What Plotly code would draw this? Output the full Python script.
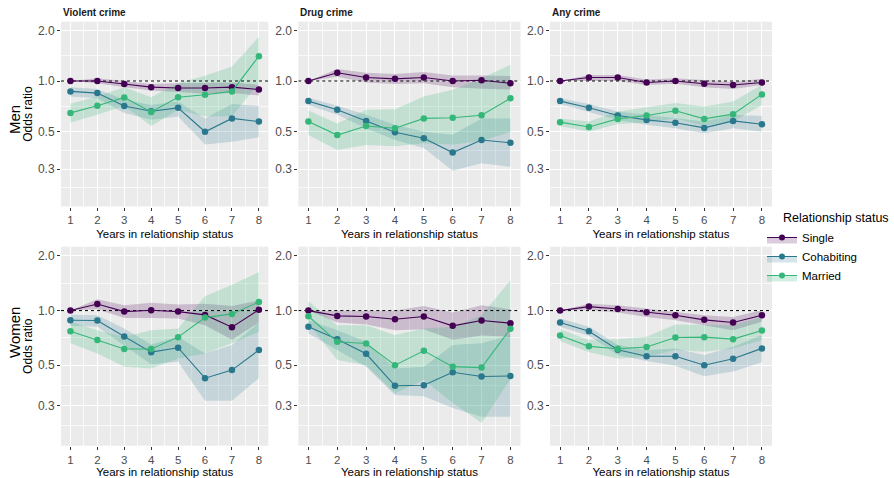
import math
import plotly.graph_objects as go

YEARS = [1, 2, 3, 4, 5, 6, 7, 8]
CRIMES = ["Violent crime", "Drug crime", "Any crime"]
SEXES = ["Men", "Women"]
STATUSES = ["Single", "Cohabiting", "Married"]
Y_TICKS = [0.3, 0.5, 1.0, 2.0]
Y_TICK_TEXT = ["0.3", "0.5", "1.0", "2.0"]
X_TITLE = "Years in relationship status"
Y_TITLE = "Odds ratio"
LEGEND_TITLE = "Relationship status"

# ---- Men, Violent crime
vm_single = [1.0, 1.0, 0.96, 0.92, 0.91, 0.91, 0.92, 0.89]
vm_single_lo = [1.0, 0.97, 0.92, 0.88, 0.86, 0.84, 0.85, 0.82]
vm_single_hi = [1.0, 1.04, 1.0, 0.96, 0.97, 0.97, 0.98, 0.95]
vm_cohab = [0.868, 0.848, 0.71, 0.662, 0.693, 0.50, 0.60, 0.575]
vm_cohab_lo = [0.81, 0.79, 0.645, 0.59, 0.616, 0.42, 0.436, 0.463]
vm_cohab_hi = [0.92, 0.896, 0.774, 0.72, 0.756, 0.60, 0.73, 0.71]
vm_married = [0.647, 0.713, 0.799, 0.656, 0.802, 0.829, 0.868, 1.403]
vm_married_lo = [0.567, 0.63, 0.713, 0.54, 0.675, 0.616, 0.62, 0.97]
vm_married_hi = [0.733, 0.81, 0.92, 0.80, 0.973, 1.076, 1.22, 1.83]

# ---- Men, Drug crime
dm_single = [1.0, 1.12, 1.05, 1.03, 1.05, 1.0, 1.01, 0.97]
dm_single_lo = [1.0, 1.06, 0.98, 0.96, 0.97, 0.92, 0.90, 0.89]
dm_single_hi = [1.0, 1.18, 1.12, 1.10, 1.13, 1.08, 1.08, 1.07]
dm_cohab = [0.76, 0.675, 0.58, 0.497, 0.457, 0.376, 0.447, 0.43]
dm_cohab_lo = [0.72, 0.63, 0.525, 0.447, 0.40, 0.293, 0.325, 0.31]
dm_cohab_hi = [0.796, 0.713, 0.63, 0.55, 0.50, 0.48, 0.60, 0.60]
dm_married = [0.575, 0.478, 0.541, 0.525, 0.60, 0.605, 0.627, 0.79]
dm_married_lo = [0.478, 0.39, 0.417, 0.41, 0.427, 0.42, 0.44, 0.50]
dm_married_hi = [0.668, 0.56, 0.675, 0.681, 0.81, 0.888, 1.04, 1.25]

# ---- Men, Any crime
am_single = [1.0, 1.05, 1.05, 0.98, 1.0, 0.964, 0.947, 0.98]
am_single_lo = [1.0, 1.0, 1.0, 0.947, 0.964, 0.92, 0.896, 0.947]
am_single_hi = [1.0, 1.086, 1.086, 1.02, 1.04, 1.01, 0.99, 1.03]
am_cohab = [0.76, 0.694, 0.624, 0.588, 0.565, 0.527, 0.58, 0.554]
am_cohab_lo = [0.73, 0.656, 0.588, 0.55, 0.525, 0.49, 0.525, 0.50]
am_cohab_hi = [0.79, 0.73, 0.66, 0.63, 0.60, 0.575, 0.63, 0.62]
am_married = [0.57, 0.534, 0.596, 0.624, 0.666, 0.596, 0.636, 0.833]
am_married_lo = [0.54, 0.50, 0.556, 0.567, 0.60, 0.54, 0.575, 0.72]
am_married_hi = [0.60, 0.575, 0.66, 0.70, 0.74, 0.706, 0.756, 0.95]

# ---- Women, Violent crime
vw_single = [1.0, 1.088, 0.987, 1.004, 0.987, 0.947, 0.81, 1.01]
vw_single_lo = [1.0, 1.017, 0.91, 0.91, 0.904, 0.83, 0.69, 0.86]
vw_single_hi = [1.0, 1.154, 1.07, 1.106, 1.08, 1.09, 1.06, 1.14]
vw_cohab = [0.885, 0.881, 0.72, 0.59, 0.624, 0.424, 0.47, 0.606]
vw_cohab_lo = [0.824, 0.814, 0.645, 0.506, 0.523, 0.318, 0.318, 0.424]
vw_cohab_hi = [0.95, 0.943, 0.797, 0.65, 0.717, 0.58, 0.646, 0.86]
vw_married = [0.77, 0.688, 0.614, 0.614, 0.714, 0.915, 0.959, 1.116]
vw_married_lo = [0.66, 0.58, 0.49, 0.48, 0.545, 0.58, 0.66, 0.764]
vw_married_hi = [0.867, 0.78, 0.717, 0.78, 0.797, 1.2, 1.39, 1.63]

# ---- Women, Drug crime
dw_single = [1.0, 0.935, 0.927, 0.896, 0.927, 0.824, 0.882, 0.852]
dw_single_lo = [1.0, 0.86, 0.838, 0.78, 0.79, 0.69, 0.73, 0.717]
dw_single_hi = [1.0, 1.004, 1.0, 1.0, 1.06, 0.975, 1.07, 1.017]
dw_cohab = [0.814, 0.694, 0.578, 0.385, 0.388, 0.457, 0.433, 0.436]
dw_cohab_lo = [0.748, 0.606, 0.49, 0.343, 0.337, 0.29, 0.26, 0.26]
dw_cohab_hi = [0.885, 0.78, 0.673, 0.48, 0.49, 0.646, 0.66, 0.73]
dw_married = [0.931, 0.673, 0.659, 0.5, 0.6, 0.491, 0.485, 0.793]
dw_married_lo = [0.849, 0.534, 0.5, 0.35, 0.415, 0.31, 0.24, 0.42]
dw_married_hi = [1.125, 0.83, 0.83, 0.733, 0.797, 0.814, 0.943, 1.47]

# ---- Women, Any crime
aw_single = [1.0, 1.052, 1.021, 0.979, 0.943, 0.889, 0.86, 0.943]
aw_single_lo = [1.0, 1.004, 0.975, 0.923, 0.885, 0.83, 0.78, 0.867]
aw_single_hi = [1.0, 1.09, 1.07, 1.025, 0.99, 0.943, 0.923, 1.004]
aw_cohab = [0.86, 0.77, 0.609, 0.56, 0.56, 0.5, 0.543, 0.619]
aw_cohab_lo = [0.814, 0.727, 0.569, 0.527, 0.497, 0.434, 0.461, 0.519]
aw_cohab_hi = [0.904, 0.814, 0.646, 0.606, 0.619, 0.569, 0.632, 0.733]
aw_married = [0.73, 0.635, 0.616, 0.63, 0.711, 0.714, 0.696, 0.777]
aw_married_lo = [0.68, 0.59, 0.545, 0.557, 0.606, 0.594, 0.619, 0.688]
aw_married_hi = [0.79, 0.688, 0.696, 0.717, 0.838, 0.83, 0.83, 0.923]

PANELS = [
    [(vm_single, vm_single_lo, vm_single_hi), (vm_cohab, vm_cohab_lo, vm_cohab_hi), (vm_married, vm_married_lo, vm_married_hi)],
    [(dm_single, dm_single_lo, dm_single_hi), (dm_cohab, dm_cohab_lo, dm_cohab_hi), (dm_married, dm_married_lo, dm_married_hi)],
    [(am_single, am_single_lo, am_single_hi), (am_cohab, am_cohab_lo, am_cohab_hi), (am_married, am_married_lo, am_married_hi)],
    [(vw_single, vw_single_lo, vw_single_hi), (vw_cohab, vw_cohab_lo, vw_cohab_hi), (vw_married, vw_married_lo, vw_married_hi)],
    [(dw_single, dw_single_lo, dw_single_hi), (dw_cohab, dw_cohab_lo, dw_cohab_hi), (dw_married, dw_married_lo, dw_married_hi)],
    [(aw_single, aw_single_lo, aw_single_hi), (aw_cohab, aw_cohab_lo, aw_cohab_hi), (aw_married, aw_married_lo, aw_married_hi)],
]

# ---- styling / layout constants
W, H = 894, 478
COLORS = ["#440154", "#2A788E", "#35B779"]
FILLS = ["rgba(68,1,84,0.2)", "rgba(42,120,142,0.2)", "rgba(53,183,121,0.22)"]
FONT = "Liberation Sans, Arial, Helvetica, sans-serif"
X_RANGE = [0.65, 8.35]
Y_RANGE = [math.log10(0.18), math.log10(2.25)]
X_MINOR = [1.5, 2.5, 3.5, 4.5, 5.5, 6.5, 7.5]
Y_MINOR = [0.232, 0.387, 0.707, 1.414]
COL_PX = [(61, 268.3), (298.3, 520.5), (550, 772)]
ROW_PX = [(21.7, 206.5), (246.7, 445.7)]

fig = go.Figure()

def axis_suffix(p):
    return "" if p == 0 else str(p + 1)

# ribbons first
for p, panel in enumerate(PANELS):
    s = axis_suffix(p)
    for k, (val, lo, hi) in enumerate(panel):
        fig.add_trace(go.Scatter(
            x=YEARS + YEARS[::-1], y=hi + lo[::-1],
            fill="toself", fillcolor=FILLS[k], mode="lines",
            line=dict(width=0, color=FILLS[k]), hoverinfo="skip",
            showlegend=False, xaxis="x" + s, yaxis="y" + s))

# reference line at OR = 1
for p in range(6):
    s = axis_suffix(p)
    fig.add_trace(go.Scatter(
        x=X_RANGE, y=[1, 1], mode="lines",
        line=dict(color="black", width=1, dash="3px,3px"),
        hoverinfo="skip", showlegend=False, xaxis="x" + s, yaxis="y" + s))

# lines + points
for p, panel in enumerate(PANELS):
    s = axis_suffix(p)
    for k, (val, lo, hi) in enumerate(panel):
        fig.add_trace(go.Scatter(
            x=YEARS, y=val, mode="lines+markers",
            line=dict(color=COLORS[k], width=1.1),
            marker=dict(color=COLORS[k], size=6.5),
            name=STATUSES[k], legendgroup=STATUSES[k], showlegend=False,
            xaxis="x" + s, yaxis="y" + s))

# legend entries
for k, name in enumerate(STATUSES):
    fig.add_trace(go.Scatter(
        x=[None], y=[None], mode="lines+markers", fill="toself",
        fillcolor=FILLS[k], line=dict(color=COLORS[k], width=1),
        marker=dict(color=COLORS[k], size=6), name=name,
        legendgroup=name, showlegend=True, xaxis="x", yaxis="y"))

layout = dict(
    width=W, height=H,
    margin=dict(l=0, r=0, t=0, b=0),
    paper_bgcolor="white", plot_bgcolor="#EBEBEB",
    font=dict(family=FONT, size=11, color="black"),
    showlegend=True,
    legend=dict(x=762 / W, y=1 - 223 / H, xanchor="left", yanchor="top",
                font=dict(size=11.5, color="black"), bgcolor="rgba(0,0,0,0)",
                tracegroupgap=0, itemwidth=30),
    annotations=[],
)

for p in range(6):
    r, c = divmod(p, 3)
    s = axis_suffix(p)
    x0, x1 = COL_PX[c]
    y0, y1 = ROW_PX[r]
    layout["xaxis" + s] = dict(
        domain=[x0 / W, x1 / W], anchor="y" + s, range=X_RANGE,
        tickmode="array", tickvals=YEARS, ticktext=[str(v) for v in YEARS],
        ticks="outside", ticklen=3, tickcolor="#333333", tickwidth=1,
        tickfont=dict(size=11.5, color="#4D4D4D"),
        showgrid=True, gridcolor="white", gridwidth=1, zeroline=False,
        showline=False,
        minor=dict(tickmode="array", tickvals=X_MINOR, showgrid=True,
                   gridcolor="rgba(255,255,255,0.7)", gridwidth=0.5, ticks=""),
        title=dict(text=X_TITLE, font=dict(size=11.5, color="black"), standoff=4),
        fixedrange=True)
    layout["yaxis" + s] = dict(
        domain=[1 - y1 / H, 1 - y0 / H], anchor="x" + s, type="log",
        range=Y_RANGE, tickmode="array", tickvals=Y_TICKS, ticktext=Y_TICK_TEXT,
        ticks="outside", ticklen=3, tickcolor="#333333", tickwidth=1,
        tickfont=dict(size=12, color="#4D4D4D"),
        showgrid=True, gridcolor="white", gridwidth=1, zeroline=False,
        showline=False,
        minor=dict(tickmode="array", tickvals=Y_MINOR, showgrid=True,
                   gridcolor="rgba(255,255,255,0.7)", gridwidth=0.5, ticks=""),
        title=dict(text=Y_TITLE if c == 0 else "", font=dict(size=12, color="black"), standoff=2),
        fixedrange=True)

# facet titles (top row)
for c, crime in enumerate(CRIMES):
    layout["annotations"].append(dict(
        text="<b>" + crime + "</b>", xref="paper", yref="paper", x=COL_PX[c][0] / W, y=1 - 12.7 / H,
        xanchor="left", yanchor="middle", showarrow=False,
        font=dict(size=10, color="#1A1A1A", family=FONT)))

# row labels
for r, (sex, ypx) in enumerate(zip(SEXES, [120, 333])):
    layout["annotations"].append(dict(
        text=sex, xref="paper", yref="paper", x=14 / W, y=1 - ypx / H,
        xanchor="center", yanchor="middle", textangle=-90, showarrow=False,
        font=dict(size=15, color="black", family=FONT)))

# legend title
layout["annotations"].append(dict(
    text=LEGEND_TITLE, xref="paper", yref="paper", x=781 / W, y=1 - 218 / H,
    xanchor="left", yanchor="middle", showarrow=False,
    font=dict(size=12.5, color="black", family=FONT)))

fig.update_layout(**layout)
fig.write_html("out.html")
